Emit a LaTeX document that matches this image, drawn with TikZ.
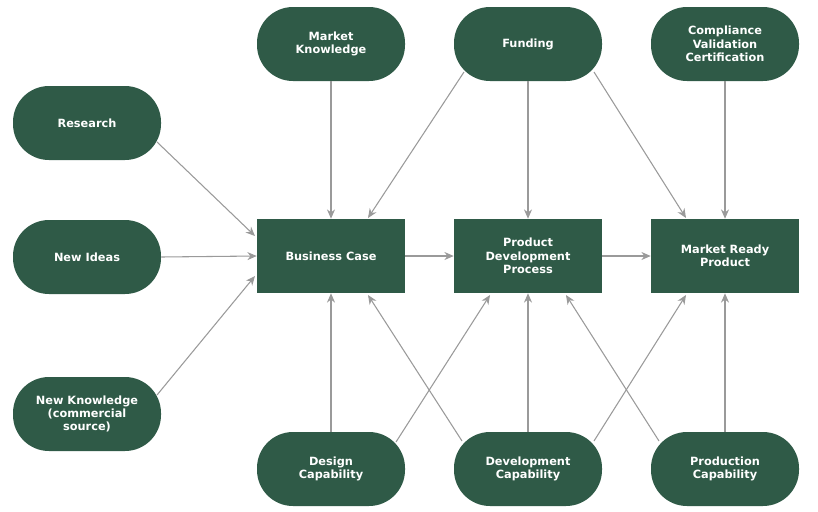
\documentclass[tikz,border=0pt]{standalone}
\usepackage{fontspec}
\setmainfont{DejaVu Sans}
\usetikzlibrary{calc,arrows.meta}
\definecolor{dg}{HTML}{2F5A47}
\definecolor{ar}{HTML}{9A9A9A}
\begin{document}
\begin{tikzpicture}[x=0.75pt,y=-0.75pt,
  base/.style={fill=dg,text=white,font=\bfseries\fontsize{8.5}{10}\selectfont,align=center,minimum width=111pt,minimum height=55.5pt,inner sep=2pt},
  pill/.style={base,rounded corners=27pt},
  box/.style={base},
  con/.style={draw=ar,line width=0.8pt,-{Stealth[length=7pt,width=6pt]}}]
\useasboundingbox (0,0) rectangle (818,511);
\node[pill] (r) at (87,123) {Research};
\node[pill] (ni) at (87,257) {New Ideas};
\node[pill] (nk) at (87,414) {New Knowledge\\(commercial\\source)};
\node[pill] (mk) at (331,44) {Market\\Knowledge};
\node[pill] (f) at (528,44) {Funding};
\node[pill] (c) at (725,44) {Compliance\\Validation\\Certification};
\node[box] (bc) at (331,256) {Business Case};
\node[box] (pd) at (528,256) {Product\\Development\\Process};
\node[box] (mr) at (725,256) {Market Ready\\Product};
\node[pill] (d) at (331,469) {Design\\Capability};
\node[pill] (dv) at (528,469) {Development\\Capability};
\node[pill] (p) at (725,469) {Production\\Capability};
\draw[con] ($(r)+(70,19)$) -- ($(bc)+(-76,-20)$);
\draw[con] (ni.east) -- (bc.west);
\draw[con] ($(nk)+(70,-19)$) -- ($(bc)+(-76,20)$);
\draw[con] (mk.south) -- (bc.north);
\draw[con] ($(f)+(-64,28)$) -- ($(bc)+(37,-38)$);
\draw[con] (f.south) -- (pd.north);
\draw[con] ($(f)+(66,28)$) -- ($(mr)+(-39,-38)$);
\draw[con] (c.south) -- (mr.north);
\draw[con] (bc.east) -- (pd.west);
\draw[con] (pd.east) -- (mr.west);
\draw[con] (d.north) -- (bc.south);
\draw[con] ($(d)+(65,-27)$) -- ($(pd)+(-38,39)$);
\draw[con] ($(dv)+(-66,-28)$) -- ($(bc)+(37,39)$);
\draw[con] (dv.north) -- (pd.south);
\draw[con] ($(dv)+(66,-28)$) -- ($(mr)+(-39,39)$);
\draw[con] ($(p)+(-66,-28)$) -- ($(pd)+(38,39)$);
\draw[con] (p.north) -- (mr.south);
\end{tikzpicture}
\end{document}
